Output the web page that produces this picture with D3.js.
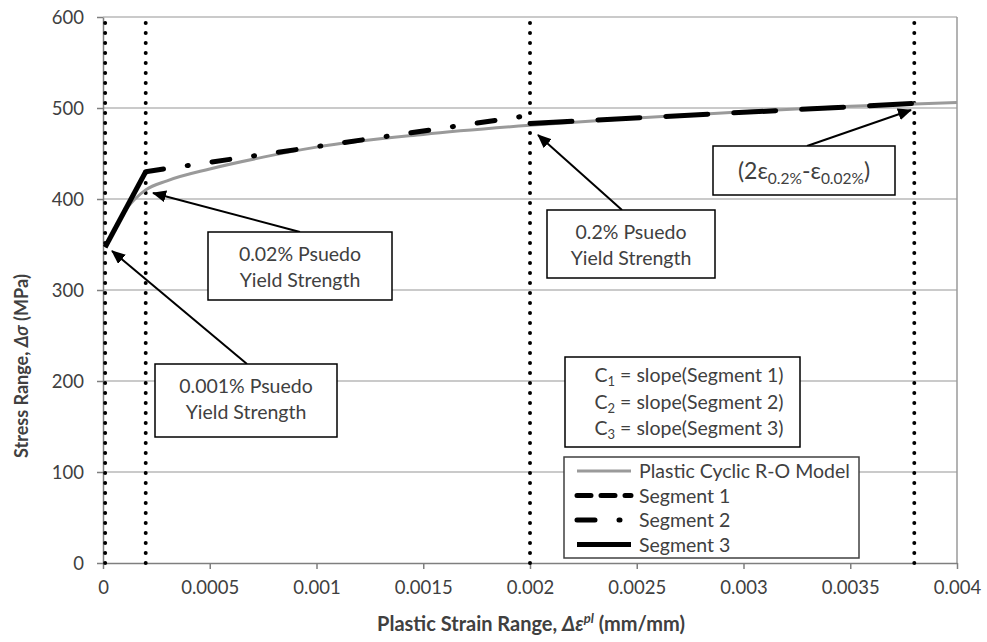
<!DOCTYPE html>
<html>
<head>
<meta charset="utf-8">
<script src="https://cdn.jsdelivr.net/npm/d3@7"></script>
<style>
  body { margin: 0; background: #fff; }
  svg text { font-family: Lato, "Open Sans", sans-serif; fill: #404040; }
</style>
</head>
<body>
<div id="chart"></div>
<script>
// Datos
const xTicks = [0, 0.0005, 0.001, 0.0015, 0.002, 0.0025, 0.003, 0.0035, 0.004];
const yTicks = [0, 100, 200, 300, 400, 500, 600];

// Curva R-O plastica ciclica (deformacion, tension)
const roStrain = [0.00001, 0.00003, 0.00006, 0.0001, 0.00015, 0.0002, 0.0003, 0.0005, 0.00075, 0.001, 0.0015, 0.002, 0.0025, 0.003, 0.0035, 0.004];
const roStress = [347, 356, 369, 386, 400, 410, 420, 433, 446, 457, 471, 481, 489, 496, 502, 506];

// Segmentos
const seg1Strain = [0.002, 0.0038], seg1Stress = [483, 505];
const seg2Strain = [0.0002, 0.002], seg2Stress = [430, 492];
const seg3Strain = [0.00001, 0.0002], seg3Stress = [347, 430];

// Lineas verticales punteadas
const vLines = [0.00001, 0.0002, 0.002, 0.0038];

const legendNames = ['Plastic Cyclic R-O Model', 'Segment 1', 'Segment 2', 'Segment 3'];

let W = 987, H = 642;
let margin = {top: 17, right: 30, bottom: 79, left: 103};

let svg = d3.select('#chart').append('svg')
    .attr('width', W).attr('height', H);

let x = d3.scaleLinear().domain([0, 0.004]).range([margin.left, W - margin.right]);
let y = d3.scaleLinear().domain([0, 600]).range([H - margin.bottom, margin.top]);

// Grid
svg.append('g').selectAll('line')
    .data(yTicks.filter(d => d > 0))
    .enter().append('line')
    .attr('x1', x(0)).attr('x2', x(0.004))
    .attr('y1', d => y(d)).attr('y2', d => y(d))
    .attr('stroke', '#b8b8b8').attr('stroke-width', 1.5);

// borde derecho
svg.append('line')
    .attr('x1', x(0.004)).attr('x2', x(0.004))
    .attr('y1', y(0)).attr('y2', y(600))
    .attr('stroke', '#9a9a9a').attr('stroke-width', 1.5);

// Ejes
let xAxis = svg.append('g')
    .attr('transform', 'translate(0,' + y(0) + ')')
    .call(d3.axisBottom(x).tickValues(xTicks).tickFormat(d => d3.format('')(+d.toFixed(4))).tickSize(6).tickSizeOuter(0));
let yAxis = svg.append('g')
    .attr('transform', 'translate(' + x(0) + ',0)')
    .call(d3.axisLeft(y).tickValues(yTicks).tickSize(6).tickSizeOuter(0));

[xAxis, yAxis].forEach(function(g) {
    g.select('.domain').attr('stroke', '#7f7f7f').attr('stroke-width', 1.5);
    g.selectAll('.tick line').attr('stroke', '#7f7f7f').attr('stroke-width', 1.5);
    g.selectAll('.tick text').style('font-size', '18.5px').attr('fill', '#505050');
});
xAxis.selectAll('.tick text').attr('y', 14).attr('dy', '0.9em');
yAxis.selectAll('.tick text').attr('x', -19).attr('dy', '0.35em');

// Titulos de ejes
let xt = svg.append('text')
    .attr('x', 531).attr('y', 631)
    .attr('text-anchor', 'middle')
    .style('font-size', '20px').style('font-weight', 'bold');
xt.append('tspan').text('Plastic Strain Range, ');
xt.append('tspan').style('font-style', 'italic').text('Δε');
xt.append('tspan').style('font-style', 'italic').style('font-size', '13px').attr('dy', -8).text('pl');
xt.append('tspan').attr('dy', 8).text(' (mm/mm)');

let yt = svg.append('text')
    .attr('transform', 'translate(28,366) rotate(-90)')
    .attr('text-anchor', 'middle')
    .style('font-size', '18px').style('font-weight', 'bold');
yt.append('tspan').text('Stress Range, ');
yt.append('tspan').style('font-style', 'italic').text('Δσ');
yt.append('tspan').text(' (MPa)');

// Lineas verticales
svg.append('g').selectAll('line')
    .data(vLines)
    .enter().append('line')
    .attr('x1', d => x(d)).attr('x2', d => x(d))
    .attr('y1', y(0)).attr('y2', y(600))
    .attr('stroke', '#000').attr('stroke-width', 4)
    .attr('stroke-linecap', 'round')
    .attr('stroke-dasharray', '0,10');

let line = d3.line().x(d => x(d[0])).y(d => y(d[1]));

// Curva R-O
svg.append('path')
    .datum(d3.zip(roStrain, roStress))
    .attr('d', line.curve(d3.curveMonotoneX))
    .attr('fill', 'none').attr('stroke', '#9a9a9a').attr('stroke-width', 3);

line.curve(d3.curveLinear);
// Segmentos
svg.append('path').datum(d3.zip(seg3Strain, seg3Stress))
    .attr('d', line).attr('fill', 'none').attr('stroke', '#000').attr('stroke-width', 5);
svg.append('path').datum(d3.zip(seg2Strain, seg2Stress))
    .attr('d', line).attr('fill', 'none').attr('stroke', '#000').attr('stroke-width', 5)
    .attr('stroke-linecap', 'round').attr('stroke-dasharray', '18,24,1,24');
svg.append('path').datum(d3.zip(seg1Strain, seg1Stress))
    .attr('d', line).attr('fill', 'none').attr('stroke', '#000').attr('stroke-width', 5)
    .attr('stroke-linecap', 'round').attr('stroke-dasharray', '42,26');

// Flechas
svg.append('defs').append('marker')
    .attr('id', 'arrow').attr('markerUnits', 'userSpaceOnUse')
    .attr('markerWidth', 14).attr('markerHeight', 12)
    .attr('refX', 13).attr('refY', 6).attr('orient', 'auto')
    .append('path').attr('d', 'M0,0 L14,6 L0,12 Z').attr('fill', '#000');

let arrows = [
    [247, 364, 112, 251],
    [300, 232, 153, 193],
    [622, 210, 538, 135],
    [807, 146, 911, 110]
];
svg.append('g').selectAll('line').data(arrows).enter().append('line')
    .attr('x1', d => d[0]).attr('y1', d => d[1])
    .attr('x2', d => d[2]).attr('y2', d => d[3])
    .attr('stroke', '#000').attr('stroke-width', 2)
    .attr('marker-end', 'url(#arrow)');

// Cajas de texto
function box(x0, y0, w, h) {
    svg.append('rect').attr('x', x0).attr('y', y0).attr('width', w).attr('height', h)
        .attr('fill', '#fff').attr('stroke', '#000').attr('stroke-width', 1.5);
}
function label(lines, cx, y0, dy) {
    lines.forEach(function(t, i) {
        svg.append('text').attr('x', cx).attr('y', y0 + i * dy)
            .attr('text-anchor', 'middle').style('font-size', '19.5px').text(t);
    });
}
box(208, 232, 184, 68);
label(['0.02% Psuedo', 'Yield Strength'], 300, 261, 26);
box(155, 364, 182, 73);
label(['0.001% Psuedo', 'Yield Strength'], 246, 393, 26);
box(547, 210, 168, 68);
label(['0.2% Psuedo', 'Yield Strength'], 631, 239, 26);

box(713, 146, 182, 49);
let eps = svg.append('text').attr('x', 804).attr('y', 179)
    .attr('text-anchor', 'middle').style('font-size', '23px');
eps.append('tspan').text('(2ε');
eps.append('tspan').style('font-size', '15.5px').attr('dy', 5).text('0.2%');
eps.append('tspan').attr('dy', -5).text('-ε');
eps.append('tspan').style('font-size', '15.5px').attr('dy', 5).text('0.02%');
eps.append('tspan').attr('dy', -5).text(')');

box(565, 357, 235, 90);
[1, 2, 3].forEach(function(n, i) {
    let t = svg.append('text').attr('x', 689).attr('y', 382 + i * 26.5)
        .attr('text-anchor', 'middle').style('font-size', '19.5px');
    t.append('tspan').text('C');
    t.append('tspan').style('font-size', '13px').attr('dy', 4).text(n);
    t.append('tspan').attr('dy', -4).text(' = slope(Segment ' + n + ')');
});

// Leyenda
svg.append('rect').attr('x', 564).attr('y', 457).attr('width', 295).attr('height', 101)
    .attr('fill', '#fff').attr('stroke', '#404040').attr('stroke-width', 1.5);
let legStyles = [
    {stroke: '#9a9a9a', w: 3, dash: null},
    {stroke: '#000', w: 5, dash: '14,10'},
    {stroke: '#000', w: 5, dash: '18,24,1,24'},
    {stroke: '#000', w: 5, dash: null}
];
legendNames.forEach(function(name, i) {
    let ly = 471 + i * 24.5;
    svg.append('line').attr('x1', 577).attr('x2', 631).attr('y1', ly).attr('y2', ly)
        .attr('stroke', legStyles[i].stroke).attr('stroke-width', legStyles[i].w)
        .attr('stroke-linecap', legStyles[i].dash ? 'round' : 'butt')
        .attr('stroke-dasharray', legStyles[i].dash);
    svg.append('text').attr('x', 639).attr('y', ly + 7)
        .style('font-size', '19.5px').text(name);
});
</script>
</body>
</html>
